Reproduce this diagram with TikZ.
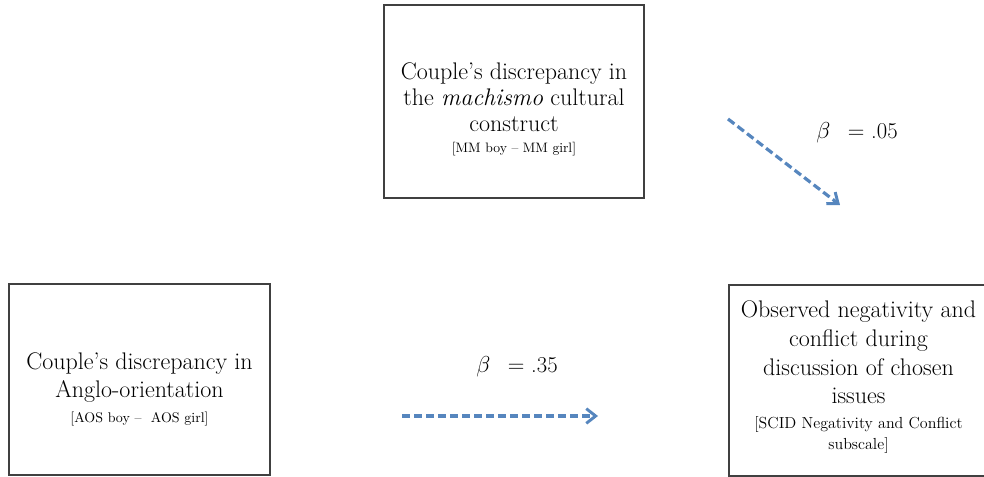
\documentclass[tikz,border=0pt]{standalone}
\usepackage{amsmath}
\usepackage{tikz}
\usetikzlibrary{arrows.meta, positioning}

\definecolor{pathblue}{RGB}{86,134,190}

\newcommand{\subsize}{\fontsize{10.5}{13}\selectfont}
\newcommand{\dropline}[1]{\rule{0pt}{#1}}

\begin{document}
\begin{tikzpicture}[
    x=0.75pt, y=-0.75pt,
    every node/.style={font=\fontsize{18}{19.5}\selectfont},
    box/.style={rectangle, draw=black!75, line width=1.1pt, align=center,
                fill=white, inner sep=2pt},
    coef/.style={font=\fontsize{17}{20}\selectfont, anchor=center},
    darr/.style={-{Straight Barb[length=7pt, width=11pt, line width=2.2pt]},
                 line width=2.4pt, draw=pathblue, dash pattern=on 6pt off 3pt}
]
\useasboundingbox (0,0) rectangle (984,477);

\node[box, minimum width=195pt, minimum height=144.75pt] (mach) at (514,101.5)
    {\dropline{24pt}Couple's discrepancy in\\the \textit{machismo} cultural\\construct\\[-4pt]
     \fontsize{10.25}{12}\selectfont [MM boy -- MM girl]};

\node[box, minimum width=195.75pt, minimum height=143.25pt, font=\fontsize{18}{21}\selectfont]
    (anglo) at (139.5,379.5)
    {\dropline{27pt}Couple's discrepancy in\\Anglo-orientation\\[-2pt]
     \subsize [AOS boy --\ \ AOS girl]};

\node[box, minimum width=194.25pt, minimum height=143.25pt, font=\fontsize{18}{21.5}\selectfont]
    (neg) at (858.5,380.5)
    {Observed negativity and\\conflict during\\discussion of chosen\\issues\\[-3pt]
     \fontsize{12}{16}\selectfont [SCID Negativity and Conflict\\[-6pt]
     \fontsize{12}{16}\selectfont subscale]\rule[-8pt]{0pt}{0pt}};

\node[coef] (b05) at (857,133) {$\beta$\ \ \,$=$ .05};
\node[coef] (b35) at (517,367) {$\beta$\ \ \,$=$ .35};

\coordinate (p1s) at (728,119);
\coordinate (p1e) at (840,205);
\coordinate (p2s) at (402,416);
\coordinate (p2e) at (598,416);

\draw[darr] (p1s) -- (p1e);
\draw[darr] (p2s) -- (p2e);
\end{tikzpicture}
\end{document}
